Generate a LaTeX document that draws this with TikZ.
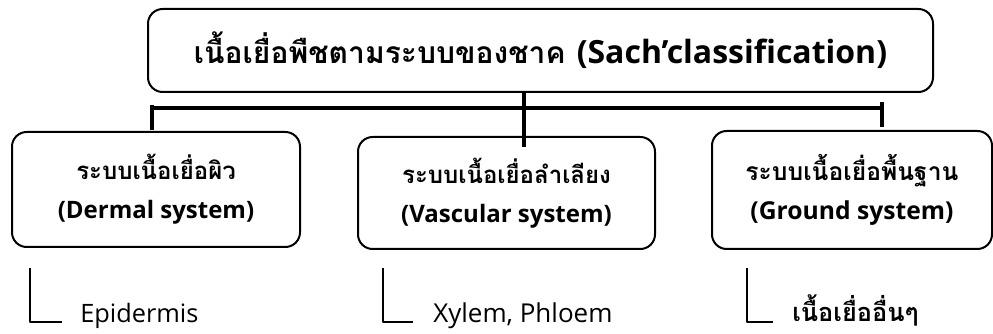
\documentclass[tikz,border=0pt]{standalone}
\usepackage{fontspec}
\newfontfamily\thai[Script=Thai]{Loma}
\newfontfamily\latin{Open Sans}
\usepackage{tikz}
\usetikzlibrary{positioning}

\begin{document}
\begin{tikzpicture}[x=0.75pt,y=-0.75pt,line join=round,
  every node/.style={font=\thai,inner sep=0pt},
  sysbox/.style={draw,line width=1.5pt,rounded corners=11pt,align=center,font=\bfseries\fontsize{18}{29}\selectfont},
  leaf/.style={anchor=base west,font=\latin\fontsize{19}{22}\selectfont},
  bar/.style={line width=3pt},
  hook/.style={line width=1.3pt}]
\useasboundingbox (0,0) rectangle (993,334);
\node[sysbox,minimum width=588.75pt,minimum height=62.25pt,font=\bfseries\fontsize{22.5}{26}\selectfont](sach) at (540.5,50.5){{\thai เนื้อเยื่อพืชตามระบบของชาค} {\latin\fontsize{24}{26}\selectfont (Sach’classification)}};
\node[sysbox,minimum width=216pt,minimum height=86.25pt](dermal) at (156,189.5){{\thai ระบบเนื้อเยื่อผิว}\\{\latin (Dermal system)}};
\node[sysbox,minimum width=222.75pt,minimum height=84pt](vasc) at (506.5,193){{\thai ระบบเนื้อเยื่อลำเลียง}\\{\latin (Vascular system)}};
\node[sysbox,minimum width=210pt,minimum height=88.5pt,font=\bfseries\fontsize{18.5}{29}\selectfont](ground) at (852,190){{\thai ระบบเนื้อเยื่อพื้นฐาน}\\{\latin (Ground system)}};
% branch bar
\coordinate (bl) at (152,108);\coordinate (br) at (882,108);
\coordinate (vmid) at (524,147);
\draw[bar](bl)--(br);
\draw[bar]([yshift=2.25pt]bl)--([yshift=-16.5pt]bl);
\draw[bar]([yshift=4.5pt]br)--([yshift=-14.25pt]br);
\draw[bar](sach.south -| vmid)--(vmid);
% tissues
\node[leaf](epi) at (80,323){Epidermis};
\node[leaf,font=\latin\fontsize{19.5}{22}\selectfont](xp) at (433,323){Xylem, Phloem};
\node[leaf,font=\thai\bfseries\fontsize{19}{22}\selectfont](other) at (792,322){เนื้อเยื่ออื่นๆ};
\draw[hook]([xshift=-37.5pt,yshift=41pt]epi.base west)|-([xshift=-13.5pt,yshift=0.75pt]epi.base west);
\draw[hook]([xshift=-37.5pt,yshift=41pt]xp.base west)|-([xshift=-15pt,yshift=0.75pt]xp.base west);
\draw[hook]([xshift=-33.75pt,yshift=40.25pt]other.base west)|-([xshift=-14.25pt,yshift=0pt]other.base west);
\end{tikzpicture}
\end{document}
